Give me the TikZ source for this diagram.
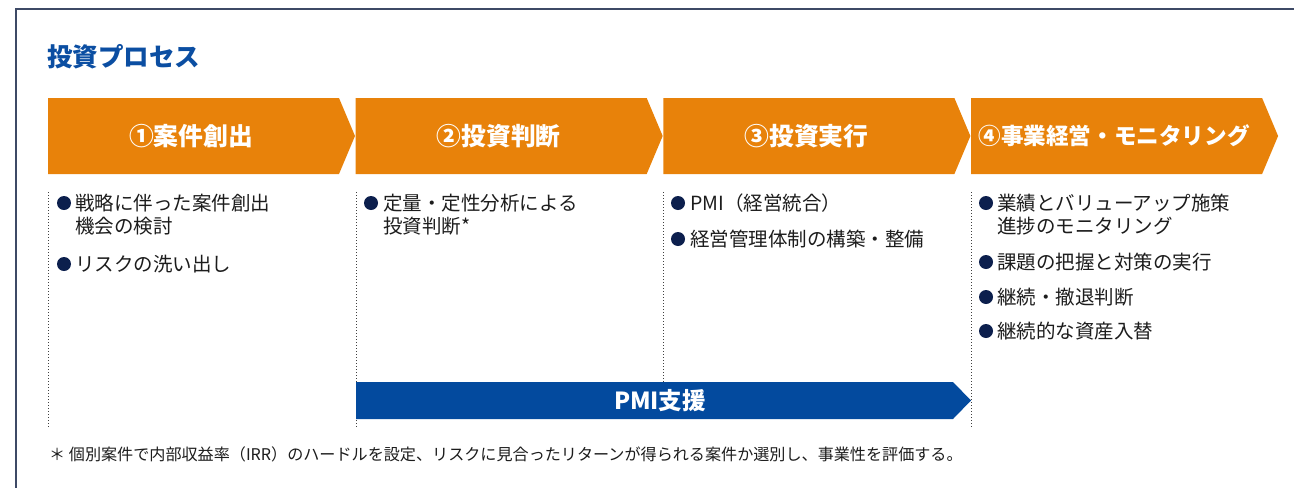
\documentclass[tikz,border=0pt]{standalone}
\usepackage{fontspec}
\setmainfont{Noto Sans CJK JP}

\definecolor{procorange}{HTML}{E8820A}
\definecolor{pmiblue}{HTML}{034A9E}
\definecolor{titleblue}{HTML}{0B4EA2}
\definecolor{dotnavy}{HTML}{0C1F4D}
\definecolor{framegray}{HTML}{3E4A66}
\definecolor{bodytext}{HTML}{1C1C1C}

\tikzset{
  steplabel/.style={text=white, inner sep=0},
  itemtext/.style={anchor=west, text=bodytext, font=\fontsize{19.5}{23}\selectfont, inner sep=0},
  itemdot/.style={fill=dotnavy},
  dotline/.style={dash pattern=on 1.2pt off 1.8pt, gray!50!black, line width=0.9},
}

\begin{document}
\begin{tikzpicture}[x=1pt, y=-1pt]
\useasboundingbox (0,0) rectangle (1294,488);

% Frame
\draw[framegray, line width=1.3] (1294,9) -- (16,9) -- (16,488);

% Title
\node[anchor=west, inner sep=0, text=titleblue, font=\fontsize{25.5}{29}\selectfont\bfseries] (title) at (47,57) {投資プロセス};

% Step arrows
\foreach \i/\sz/\lbl in {1/24.8/①案件創出, 2/24.8/②投資判断, 3/24.8/③投資実行, 4/22.6/④事業経営・モニタリング} {
  \pgfmathsetmacro{\xl}{48+307.7*(\i-1)}
  \fill[procorange] (\xl,98) -- ++(291,0) -- ++(16,38) -- ++(-16,38) -- ++(-291,0) -- cycle;
  \node[steplabel, font=\fontsize{\sz}{\sz}\selectfont\bfseries] (step\i) at (\xl+143,136) {\lbl};
}

% Dotted separators
\draw[dotline] (48,192) -- (48,428);
\draw[dotline] (356,192) -- (356,428);
\draw[dotline] (663,192) -- (663,382);
\draw[dotline] (971,192) -- (971,428);

% PMI support bar
\fill[pmiblue] (356,382) -- (953,382) -- (971,400.5) -- (953,419) -- (356,419) -- cycle;
\node[text=white, inner sep=0, font=\fontsize{23.5}{27}\selectfont\bfseries] (pmi) at (660,400.5) {PMI支援};

% Column 1
\fill[itemdot] (64,203) circle (7);
\node[itemtext] (c1a) at (75,203) {戦略に伴った案件創出};
\node[itemtext] (c1b) at (75,226) {機会の検討};
\fill[itemdot] (64,264) circle (7);
\node[itemtext] (c1c) at (75,264) {リスクの洗い出し};

% Column 2
\fill[itemdot] (371,203) circle (7);
\node[itemtext] (c2a) at (383,203) {定量・定性分析による};
\node[itemtext] (c2b) at (383,226) {投資判断*};

% Column 3
\fill[itemdot] (678,203) circle (7);
\node[itemtext] (c3a) at (690,203) {PMI（経営統合）};
\fill[itemdot] (678,239) circle (7);
\node[itemtext] (c3b) at (690,239) {経営管理体制の構築・整備};

% Column 4
\fill[itemdot] (986,203) circle (7);
\node[itemtext] (c4a) at (997,203) {業績とバリューアップ施策};
\node[itemtext] (c4b) at (997,226) {進捗のモニタリング};
\fill[itemdot] (986,262) circle (7);
\node[itemtext] (c4c) at (997,262) {課題の把握と対策の実行};
\fill[itemdot] (986,297) circle (7);
\node[itemtext] (c4d) at (997,297) {継続・撤退判断};
\fill[itemdot] (986,331) circle (7);
\node[itemtext] (c4e) at (997,331) {継続的な資産入替};

% Footnote
\node[anchor=west, inner sep=0, text=bodytext, font=\fontsize{16.1}{19}\selectfont] (note) at (49,454) {＊ 個別案件で内部収益率（IRR）のハードルを設定、リスクに見合ったリターンが得られる案件か選別し、事業性を評価する。};

\end{tikzpicture}
\end{document}
